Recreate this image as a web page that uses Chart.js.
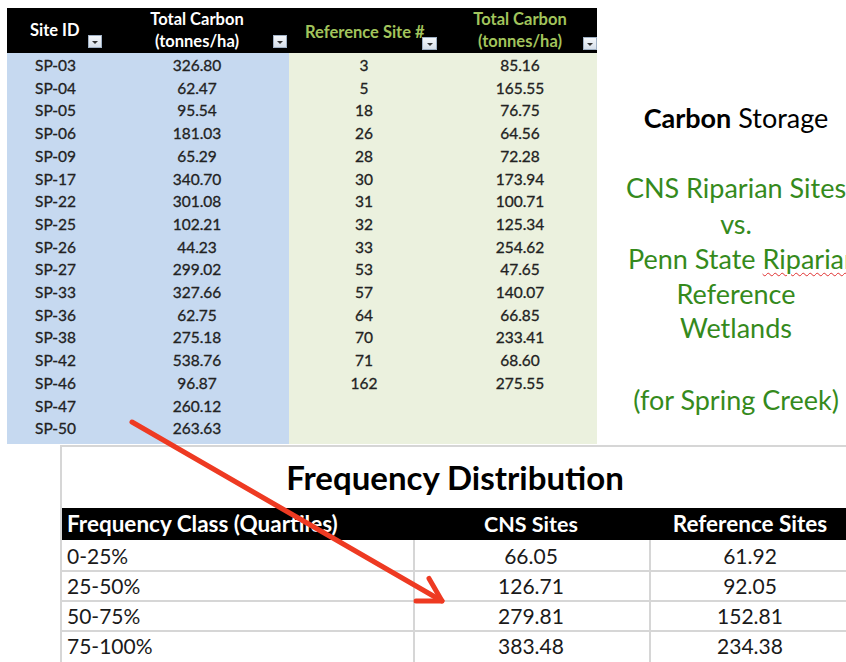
<!DOCTYPE html>
<html><head><meta charset="utf-8">
<script src="https://cdn.jsdelivr.net/npm/chart.js@4.4.1/dist/chart.umd.min.js"></script>
<style>
html,body{margin:0;padding:0;width:846px;height:662px;overflow:hidden;background:#fff;font-family:Lato,"Open Sans",sans-serif;}
#root{position:relative;width:846px;height:662px;overflow:hidden;}
.a{position:absolute;white-space:nowrap;}
.d{-webkit-text-stroke:0.3px currentColor;}
.btn{position:absolute;background:linear-gradient(#f4f7fb,#d6dfea);border:1px solid #9fb0c4;box-sizing:border-box;}
.btn:after{content:"";position:absolute;left:50%;top:50%;margin-left:-3px;margin-top:-1px;border-left:3px solid transparent;border-right:3px solid transparent;border-top:3px solid #333;}
#arrow{position:absolute;left:0;top:0;pointer-events:none;}
</style></head><body>
<div id="root"></div>
<canvas id="arrow" width="846" height="662"></canvas>
<script>
// ---- data ----
const siteIds = ['SP-03','SP-04','SP-05','SP-06','SP-09','SP-17','SP-22','SP-25','SP-26','SP-27','SP-33','SP-36','SP-38','SP-42','SP-46','SP-47','SP-50'];
const cnsCarbon = [326.80,62.47,95.54,181.03,65.29,340.70,301.08,102.21,44.23,299.02,327.66,62.75,275.18,538.76,96.87,260.12,263.63];
const refSites = [3,5,18,26,28,30,31,32,33,53,57,64,70,71,162];
const refCarbon = [85.16,165.55,76.75,64.56,72.28,173.94,100.71,125.34,254.62,47.65,140.07,66.85,233.41,68.60,275.55];
const quartileClasses = ['0-25%','25-50%','50-75%','75-100%'];
const cnsQuartiles = [66.05,126.71,279.81,383.48];
const refQuartiles = [61.92,92.05,152.81,234.38];
const arrowPath = [{x:132,y:422},{x:442,y:601}];

// ---- layout helpers ----
const root = document.getElementById('root');
function box(l,t,w,h,bg,extra){const d=document.createElement('div');d.className='a';Object.assign(d.style,{left:l+'px',top:t+'px',width:w+'px',height:h+'px',background:bg},extra||{});root.appendChild(d);return d;}
function txt(s,x,cy,opt){opt=opt||{};const d=document.createElement('div');d.className='a'+(opt.cls?' '+opt.cls:'');const h=opt.h||24;
  d.style.top=(cy-h/2)+'px';d.style.height=h+'px';d.style.lineHeight=h+'px';
  d.style.fontSize=(opt.size||16)+'px';d.style.color=opt.color||'#1a1a1a';d.style.fontWeight=opt.bold?'700':'400';
  if(opt.align==='center'){d.style.left=(x-200)+'px';d.style.width='400px';d.style.textAlign='center';}else{d.style.left=x+'px';}
  if(opt.html)d.innerHTML=s;else d.textContent=s;root.appendChild(d);return d;}
function btn(l,t,w,h){const d=document.createElement('div');d.className='btn';Object.assign(d.style,{left:l+'px',top:t+'px',width:w+'px',height:h+'px'});root.appendChild(d);}

// ---- top table ----
box(7,8,590,45,'#000');
box(7,53,282,391,'#c6d9f0');
box(289,53,308,391,'#ebf1de');
const hdrGreen='#a2c45c';
txt('Site ID',30,30,{bold:true,color:'#fff',size:16.5});
txt('Total Carbon',197,19,{bold:true,color:'#fff',size:16.5,align:'center'});
txt('(tonnes/ha)',197,41,{bold:true,color:'#fff',size:16.5,align:'center'});
txt('Reference Site #',305,32,{bold:true,color:hdrGreen,size:16.5});
txt('Total Carbon',520,19,{bold:true,color:hdrGreen,size:16.5,align:'center'});
txt('(tonnes/ha)',520,41,{bold:true,color:hdrGreen,size:16.5,align:'center'});
btn(88,35,14,13);btn(273,35,14,13);btn(422,37,15,13);btn(583,37,14,13);
const rowH=22.7, row0=65;
siteIds.forEach((s,i)=>{txt(s,35,row0+i*rowH,{size:15.5,cls:'d',color:'#222'});txt(cnsCarbon[i].toFixed(2),197,row0+i*rowH,{size:15.5,align:'center',cls:'d',color:'#222'});});
refSites.forEach((s,i)=>{txt(String(s),364,row0+i*rowH,{size:15.5,align:'center',cls:'d',color:'#222'});txt(refCarbon[i].toFixed(2),520,row0+i*rowH,{size:15.5,align:'center',cls:'d',color:'#222'});});

// ---- right text ----
const green='#358a1c';
txt('<b>Carbon</b> Storage',736,118,{size:27,align:'center',color:'#000',html:true,h:34});
txt('CNS Riparian Sites',736,188,{size:27,align:'center',color:green,h:34});
txt('vs.',736,224,{size:27,align:'center',color:green,h:34});
txt('Penn State <span style="text-decoration:underline wavy #e03030;text-decoration-thickness:1px;text-underline-offset:3px">Riparian</span>',628,259,{size:27,color:green,html:true,h:34});
txt('Reference',736,294,{size:27,align:'center',color:green,h:34});
txt('Wetlands',736,328,{size:27,align:'center',color:green,h:34});
txt('(for Spring Creek)',736,400,{size:27,align:'center',color:green,h:34});

// ---- frequency distribution ----
const grid='#d6d6d6';
box(60,445,786,2,grid);
box(60,445,2,217,grid);
txt('Frequency Distribution',455,477,{size:33,bold:true,align:'center',color:'#000',h:42});
box(62,508,784,32,'#000');
txt('Frequency Class (Quartiles)',67,524,{size:22.5,bold:true,color:'#fff',h:30});
txt('CNS Sites',531,524,{size:21.5,bold:true,color:'#fff',align:'center',h:30});
txt('Reference Sites',750,524,{size:22.5,bold:true,color:'#fff',align:'center',h:30});
box(413,540,2,122,grid);box(649,540,2,122,grid);
quartileClasses.forEach((q,i)=>{
  const cy=556+i*30;
  if(i<3) box(62,570+i*30,784,2,grid);
  txt(q,67,cy,{size:21,h:30,color:'#1a1a1a'});
  txt(cnsQuartiles[i].toFixed(2),531,cy,{size:21,align:'center',h:30,color:'#1a1a1a'});
  txt(refQuartiles[i].toFixed(2),750,cy,{size:21,align:'center',h:30,color:'#1a1a1a'});
});

// ---- arrow drawn with Chart.js ----
const arrowColor='#ee3a22';
const arrowHead={id:'arrowHead',afterDatasetsDraw(chart){
  const ctx=chart.ctx,xs=chart.scales.x,ys=chart.scales.y,pts=chart.data.datasets[0].data;
  const p0=pts[pts.length-2],p1=pts[pts.length-1];
  const x0=xs.getPixelForValue(p0.x),y0=ys.getPixelForValue(p0.y),x1=xs.getPixelForValue(p1.x),y1=ys.getPixelForValue(p1.y);
  const ang=Math.atan2(y1-y0,x1-x0),L=26,spread=Math.PI/6;
  ctx.save();ctx.strokeStyle=arrowColor;ctx.lineWidth=5;ctx.lineCap='round';ctx.lineJoin='round';
  ctx.beginPath();
  ctx.moveTo(x1-L*Math.cos(ang-spread),y1-L*Math.sin(ang-spread));
  ctx.lineTo(x1,y1);
  ctx.lineTo(x1-L*Math.cos(ang+spread),y1-L*Math.sin(ang+spread));
  ctx.stroke();ctx.restore();
}};
new Chart(document.getElementById('arrow'),{
  type:'scatter',
  data:{datasets:[{data:arrowPath,showLine:true,borderColor:arrowColor,borderWidth:5,pointRadius:0,borderCapStyle:'round'}]},
  options:{responsive:false,animation:false,devicePixelRatio:1,layout:{padding:0},
    plugins:{legend:{display:false},tooltip:{enabled:false}},
    scales:{x:{type:'linear',min:0,max:846,display:false},y:{type:'linear',min:0,max:662,reverse:true,display:false}}},
  plugins:[arrowHead]
});
</script>
</body></html>
